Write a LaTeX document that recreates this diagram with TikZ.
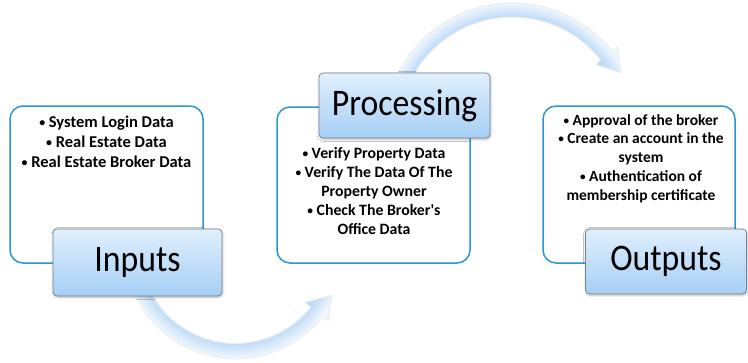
\documentclass[tikz,border=0pt]{standalone}
\usepackage{fontspec}
\setmainfont{Carlito}
\newfontfamily\labelfont[FakeStretch=0.9]{Carlito}
\usetikzlibrary{shadows.blur}

\definecolor{panelblue}{RGB}{41,150,207}
\definecolor{boxtop}{RGB}{224,239,252}
\definecolor{boxbottom}{RGB}{166,207,245}
\definecolor{boxrim}{RGB}{118,128,140}
\definecolor{arrowlight}{RGB}{238,246,254}
\definecolor{arrowdark}{RGB}{192,220,247}

% small list bullet
\newcommand\itembullet{\raisebox{0.12ex}{\scalebox{0.72}{\textbullet}}}

% A curved, shaded band with an arrow head, drawn around a centre.
% #1 centre, #2 radius, #3 half width, #4 head half width,
% #5 start angle, #6 angle where the head begins, #7 tip (angle:radius)
\newcommand\curvedband[7]{%
  \begin{scope}[shift={#1}]
    \pgfmathsetmacro\bro{#2+#3}\pgfmathsetmacro\bri{#2-#3}%
    \pgfmathsetmacro\hro{#2+#4}\pgfmathsetmacro\hri{#2-#4}%
    \path[save path=\bandoutline]
      (#5:\bro) arc[start angle=#5,end angle=#6,radius=\bro]
      -- (#6:\hro) -- (#7) -- (#6:\hri) -- (#6:\bri)
      arc[start angle=#6,end angle=#5,radius=\bri] -- cycle;
    \draw[black!7,line width=2.4pt,line join=round,use path=\bandoutline];
    \begin{scope}
      \clip[use path=\bandoutline];
      \foreach \k in {0,...,17}{%
        \pgfmathsetmacro\rr{\hri-1+2*\k}%
        \pgfmathsetmacro\pct{min(100,max(0,(\rr-\bri)/(2*#3)*100))}%
        \draw[line width=2.3pt,color=arrowlight!\pct!arrowdark]
          (0,0) circle[radius=\rr];
      }
    \end{scope}
  \end{scope}}

\tikzset{
  panel/.style={draw=panelblue,line width=1.5pt,rounded corners=13pt,
    fill=white,inner sep=0pt},
  labelbox/.style={draw=boxrim,line width=0.7pt,rounded corners=4pt,
    top color=boxtop,bottom color=boxbottom,inner sep=0pt,
    blur shadow={shadow xshift=0.6pt,shadow yshift=-1pt,
      shadow blur radius=2.5pt,shadow opacity=30},
    font=\labelfont\fontsize{37.5}{40}\selectfont},
  itemtext/.style={align=center,inner sep=0pt,anchor=north}
}

\begin{document}
\begin{tikzpicture}[x=1pt,y=-1pt]
  \useasboundingbox (0,0) rectangle (748,362);

  % arrows between the stages
  \curvedband{(235.5,247.6)}{103.5}{7}{14}{160}{38}{27:107}
  \curvedband{(512.2,130.2)}{120.2}{6.5}{13}{203}{322}{331.6:122.5}

  % panels listing the contents of each stage
  \node[panel,minimum width=193pt,minimum height=157pt] (inpanel) at (106.5,184.5) {};
  \node[panel,minimum width=193pt,minimum height=156pt] (procpanel) at (373.5,185) {};
  \node[panel,minimum width=192pt,minimum height=157pt] (outpanel) at (639,184.5) {};

  \node[itemtext,font=\bfseries\fontsize{16.5}{20}\selectfont] (intext) at (106.5,115.5) {%
    \itembullet{} System Login Data\\
    \itembullet{} Real Estate Data\\
    \itembullet{} Real Estate Broker Data};
  \node[itemtext,font=\bfseries\fontsize{15.8}{19}\selectfont] (proctext) at (374,147) {%
    \itembullet{} Verify Property Data\\
    \itembullet{} Verify The Data Of The\\
    Property Owner\\
    \itembullet{} Check The Broker\textquotesingle s\\
    Office Data};
  \node[itemtext,font=\bfseries\fontsize{15.5}{18.75}\selectfont] (outtext) at (641,114) {%
    \itembullet{} Approval of the broker\\
    \itembullet{} Create an account in the\\
    system\\
    \itembullet{} Authentication of\\
    membership certificate};

  % stage titles
  \node[labelbox,minimum width=169pt,minimum height=67pt] (inputs) at (137.5,262.5) {Inputs};
  \node[labelbox,minimum width=171pt,minimum height=65pt] (processing) at (404.5,105.5) {Processing};
  \node[labelbox,minimum width=161pt,minimum height=65pt] (outputs) at (666,261.5) {Outputs};
\end{tikzpicture}
\end{document}
